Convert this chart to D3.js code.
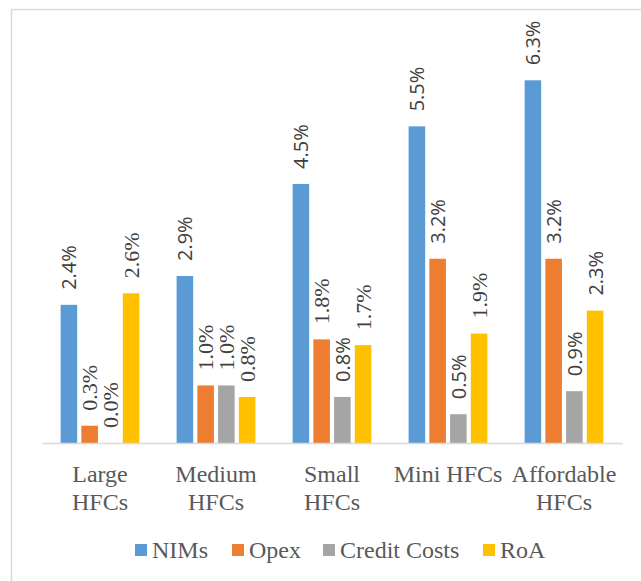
<!DOCTYPE html>
<html>
<head>
<meta charset="utf-8">
<script src="https://cdn.jsdelivr.net/npm/d3@7"></script>
<style>
  html, body { margin: 0; padding: 0; background: #ffffff; }
  svg { display: block; }
  .serif { font-family: "Liberation Serif", "Times New Roman", Times, "DejaVu Serif", "Noto Serif", serif; }
  .sans { font-family: "Open Sans", "Noto Sans", sans-serif; }
</style>
</head>
<body>
<svg id="chart" width="641" height="581"></svg>
<script>
// Profitability metrics of housing finance companies by segment (% of assets)
const categories = ["Large HFCs", "Medium HFCs", "Small HFCs", "Mini HFCs", "Affordable HFCs"];
const seriesNames = ["NIMs", "Opex", "Credit Costs", "RoA"];
const nims        = [2.4, 2.9, 4.5, 5.5, 6.3];
const opex        = [0.3, 1.0, 1.8, 3.2, 3.2];
const creditCosts = [0.0, 1.0, 0.8, 0.5, 0.9];
const roa         = [2.6, 0.8, 1.7, 1.9, 2.3];
const yDomain     = [0, 7];

const seriesValues = [nims, opex, creditCosts, roa];
const colors = ["#5b9bd5", "#ed7d31", "#a5a5a5", "#ffc000"];

// Labels rendered in the serif face (the rest use the sans face)
const serifLabels = new Set([
  "Large HFCs|Opex", "Large HFCs|Credit Costs", "Large HFCs|RoA",
  "Medium HFCs|Opex", "Medium HFCs|Credit Costs", "Medium HFCs|RoA",
  "Small HFCs|Opex", "Small HFCs|RoA",
  "Mini HFCs|RoA"
]);

const svg = d3.select("#chart");
const plot = { left: 42, right: 622, top: 40, bottom: 443 };

// Chart frame
svg.append("rect")
  .attr("x", 11.5).attr("y", 9.5)
  .attr("width", 800).attr("height", 800)
  .attr("fill", "#ffffff")
  .attr("stroke", "#d9d9d9")
  .attr("stroke-width", 1.5);

const x0 = d3.scaleBand().domain(categories).range([plot.left, plot.right]).paddingInner(0).paddingOuter(0);
const x1 = d3.scaleBand().domain(seriesNames).range([18.6, x0.bandwidth() - 18.6]).paddingInner(0.2).paddingOuter(0);
const y = d3.scaleLinear().domain(yDomain).range([plot.bottom, plot.top]);

const rows = categories.map((c, i) => ({
  category: c,
  values: seriesNames.map((s, j) => ({ category: c, series: s, value: seriesValues[j][i], color: colors[j] }))
}));

const groups = svg.append("g").selectAll("g")
  .data(rows).join("g")
  .attr("transform", d => `translate(${x0(d.category)},0)`);

groups.selectAll("rect")
  .data(d => d.values).join("rect")
  .attr("x", d => x1(d.series))
  .attr("y", d => y(d.value))
  .attr("width", x1.bandwidth())
  .attr("height", d => y(0) - y(d.value))
  .attr("fill", d => d.color);

// Value labels, rotated above each bar
groups.selectAll("text")
  .data(d => d.values).join("text")
  .attr("class", d => serifLabels.has(d.category + "|" + d.series) ? "serif" : "sans")
  .attr("transform", d => `translate(${x1(d.series) + x1.bandwidth() / 2},${y(d.value) - 15}) rotate(-90)`)
  .attr("text-anchor", "start")
  .attr("dominant-baseline", "central")
  .attr("fill", "#404040")
  .style("font-size", d => serifLabels.has(d.category + "|" + d.series) ? "22px" : "20px")
  .text(d => d.value.toFixed(1) + "%");

// Category axis
const xAxis = svg.append("g")
  .attr("transform", `translate(0,${plot.bottom})`)
  .call(d3.axisBottom(x0).tickSize(0).tickPadding(0))
  .attr("font-family", null);

xAxis.select(".domain").attr("stroke", "#d9d9d9").attr("stroke-width", 1.5);

function wrapLines(textSel, width) {
  textSel.each(function () {
    const text = d3.select(this);
    const words = text.text().split(/\s+/);
    text.text(null);
    let line = [];
    const lines = [];
    const probe = text.append("tspan");
    words.forEach(w => {
      probe.text(line.concat([w]).join(" "));
      if (probe.node().getComputedTextLength() > width && line.length) {
        lines.push(line.join(" "));
        line = [w];
      } else {
        line.push(w);
      }
    });
    lines.push(line.join(" "));
    probe.remove();
    lines.forEach((l, i) => {
      text.append("tspan").attr("x", 0).attr("y", 39 + i * 28).text(l);
    });
  });
}

xAxis.selectAll(".tick text")
  .attr("class", "serif")
  .attr("fill", "#595959")
  .attr("dy", null)
  .style("font-size", "24px")
  .call(wrapLines, 113);

// Legend
const legendX = [135, 232, 323, 483];
const legend = svg.append("g").selectAll("g")
  .data(seriesNames).join("g")
  .attr("transform", (d, i) => `translate(${legendX[i]},544)`);

legend.append("rect")
  .attr("width", 12).attr("height", 12)
  .attr("fill", (d, i) => colors[i]);

legend.append("text")
  .attr("class", "serif")
  .attr("x", 17).attr("y", 14)
  .attr("fill", "#595959")
  .style("font-size", "24px")
  .text(d => d);
</script>
</body>
</html>
